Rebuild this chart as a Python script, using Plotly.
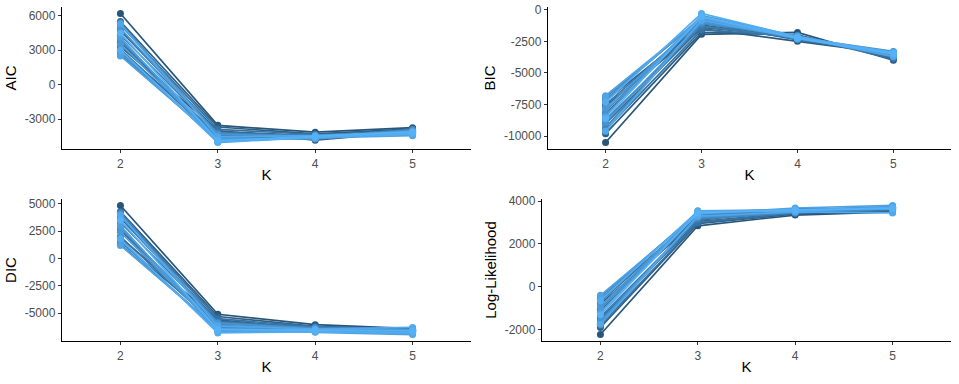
import plotly.graph_objects as go

# K values (discrete axis in the original)
k_values = [2, 3, 4, 5]

# one list per run (20 runs), values at K = 2, 3, 4, 5, darkest run first
aic_k2 = [6200, 3300, 5500, 2900, 4700, 3700, 5200, 3100, 4300, 2600, 5400, 3900, 2800, 4900, 3500, 4100, 2500, 5300, 3000, 4500]
aic_k3 = [-3550, -4000, -3700, -4300, -4100, -4500, -3900, -4700, -4200, -4850, -4400, -4600, -4950, -4300, -4750, -5000, -4800, -4550, -5050, -4900]
aic_k4 = [-4150, -4850, -4300, -4600, -4450, -4700, -4350, -4550, -4500, -4650, -4400, -4750, -4600, -4500, -4700, -4550, -4650, -4450, -4600, -4500]
aic_k5 = [-3750, -4100, -3850, -4200, -3950, -4050, -4300, -3900, -4150, -4000, -4250, -4100, -3950, -4350, -4050, -4200, -4450, -4100, -4300, -4150]

bic_k2 = [-10500, -7600, -9800, -7200, -9000, -8200, -9500, -7500, -8700, -6900, -9300, -8000, -7100, -8900, -7800, -8400, -6800, -9600, -7300, -8600]
bic_k3 = [-1950, -1500, -1800, -1200, -1400, -1000, -1600, -900, -1300, -700, -1100, -800, -600, -1000, -700, -450, -650, -850, -300, -550]
bic_k4 = [-1800, -2500, -2000, -2300, -2150, -2400, -2100, -2250, -2200, -2350, -2050, -2300, -2200, -2150, -2250, -2100, -2300, -2200, -2150, -2250]
bic_k5 = [-4000, -3500, -3850, -3400, -3700, -3550, -3900, -3450, -3650, -3350, -3750, -3500, -3300, -3600, -3450, -3550, -3350, -3700, -3400, -3500]

dic_k2 = [4850, 1900, 4300, 1500, 3700, 2600, 4100, 2000, 3300, 1300, 4200, 2800, 1600, 3900, 2400, 3000, 1200, 4000, 1800, 3500]
dic_k3 = [-5100, -5600, -5300, -5900, -5700, -6100, -5500, -6300, -5800, -6450, -6000, -6200, -6550, -5900, -6350, -6650, -6400, -6150, -6800, -6500]
dic_k4 = [-6050, -6500, -6200, -6400, -6300, -6550, -6250, -6450, -6350, -6600, -6300, -6500, -6650, -6400, -6550, -6600, -6750, -6450, -6700, -6550]
dic_k5 = [-6400, -6550, -6450, -6600, -6500, -6650, -6450, -6700, -6550, -6750, -6500, -6600, -6850, -6550, -6700, -6650, -6950, -6300, -6800, -6600]

ll_k2 = [-2230, -800, -1900, -600, -1500, -1100, -1800, -700, -1400, -450, -1700, -1000, -550, -1600, -900, -1200, -400, -1750, -650, -1300]
ll_k3 = [2850, 3100, 2950, 3250, 3050, 3300, 3000, 3350, 3150, 3450, 3200, 3400, 3500, 3250, 3450, 3550, 3400, 3300, 3520, 3450]
ll_k4 = [3350, 3650, 3400, 3550, 3450, 3600, 3450, 3500, 3500, 3600, 3450, 3550, 3600, 3500, 3550, 3600, 3680, 3500, 3550, 3600]
ll_k5 = [3500, 3600, 3550, 3650, 3550, 3700, 3600, 3650, 3600, 3700, 3650, 3700, 3750, 3650, 3700, 3720, 3800, 3450, 3700, 3650]

panels = [
    ("AIC", [aic_k2, aic_k3, aic_k4, aic_k5], [6000, 3000, 0, -3000]),
    ("BIC", [bic_k2, bic_k3, bic_k4, bic_k5], [0, -2500, -5000, -7500, -10000]),
    ("DIC", [dic_k2, dic_k3, dic_k4, dic_k5], [5000, 2500, 0, -2500, -5000]),
    ("Log-Likelihood", [ll_k2, ll_k3, ll_k4, ll_k5], [4000, 2000, 0, -2000]),
]

W, H = 959, 384
# plot areas in pixels (left, right, top, bottom)
boxes = [(62, 471, 7, 149), (548, 951, 7, 149), (62, 471, 199, 341), (542, 951, 199, 341)]

n_runs = len(aic_k2)
dark = (0x28, 0x55, 0x7A)
light = (0x56, 0xB1, 0xF7)


def run_color(i):
    t = i / (n_runs - 1)
    r, g, b = (round(d + (l - d) * t) for d, l in zip(dark, light))
    return f"rgb({r},{g},{b})"


fig = go.Figure()
font = "Liberation Sans, Arial, sans-serif"

for p, (name, cols, ticks) in enumerate(panels):
    xa = "x" if p == 0 else f"x{p + 1}"
    ya = "y" if p == 0 else f"y{p + 1}"
    for i in range(n_runs):
        fig.add_trace(go.Scatter(
            x=k_values,
            y=[c[i] for c in cols],
            mode="lines+markers",
            line=dict(color=run_color(i), width=1.7),
            marker=dict(color=run_color(i), size=7),
            xaxis=xa, yaxis=ya,
            showlegend=False,
            hoverinfo="skip",
        ))

    allv = [v for c in cols for v in c]
    lo, hi = min(allv), max(allv)
    pad = (hi - lo) * 0.05
    l, r, t, b = boxes[p]
    key = "" if p == 0 else str(p + 1)
    axis_common = dict(
        showline=True, linecolor="black", linewidth=1.2,
        ticks="outside", ticklen=3, tickcolor="#333333", tickwidth=1,
        showgrid=False, zeroline=False, automargin=False,
        ticklabeloverflow="allow",
        tickfont=dict(family=font, size=12, color="#4D4D4D"),
        title_font=dict(family=font, size=15, color="black"),
    )
    fig.layout["xaxis" + key] = dict(
        axis_common,
        domain=[l / W, r / W],
        anchor=ya,
        range=[1.4, 5.6],
        tickvals=k_values,
        ticktext=[str(k) for k in k_values],
        title=dict(text="K", standoff=0),
    )
    fig.layout["yaxis" + key] = dict(
        axis_common,
        domain=[1 - b / H, 1 - t / H],
        anchor=xa,
        range=[lo - pad, hi + pad],
        tickvals=ticks,
        ticktext=[str(v) for v in ticks],
        title=dict(text=name, standoff=4),
    )

fig.update_layout(
    width=W, height=H,
    margin=dict(l=0, r=0, t=0, b=0),
    plot_bgcolor="white",
    paper_bgcolor="white",
    font=dict(family=font),
    hovermode=False,
)

# drop the default page margin so the figure fills the window
fig.write_html(
    "out.html",
    config={"displayModeBar": False, "staticPlot": True},
    post_script="document.body.style.margin='0';",
)
